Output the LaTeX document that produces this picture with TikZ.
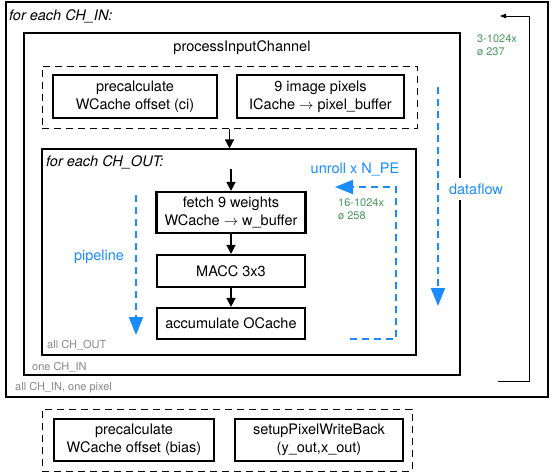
\documentclass[tikz,border=0pt]{standalone}
\usepackage{fontspec}
\setmainfont{TeX Gyre Heros}
\usepackage{xcolor}
\usepackage{tikz}
\usetikzlibrary{arrows.meta}

\definecolor{azul}{RGB}{25,140,255}
\definecolor{verde}{RGB}{72,150,92}
\definecolor{gris}{RGB}{135,135,135}

\tikzset{
  caja/.style={draw, line width=2.2pt, inner sep=0pt, align=center,
    font=\fontsize{14.5}{18}\selectfont},
  marco/.style={draw, line width=1.2pt, inner sep=0pt},
  grupo/.style={draw, line width=1pt, dash pattern=on 7pt off 5pt, inner sep=0pt},
  titulo/.style={inner sep=0pt, anchor=west, font=\fontsize{14.5}{17}\selectfont\itshape},
  etiqueta/.style={inner sep=0pt, anchor=west, text=gris, font=\fontsize{11}{13}\selectfont},
  cuenta/.style={inner sep=0pt, anchor=north west, align=left, text=verde,
    font=\fontsize{11}{13}\selectfont},
  nota/.style={inner sep=0pt, text=azul, font=\fontsize{14.5}{17}\selectfont},
  paso/.style={line width=1.5pt, -{Triangle[width=9pt,length=9pt]}},
  flujo/.style={draw=azul, line width=2pt, dash pattern=on 7pt off 5pt,
    -{Triangle[width=14pt,length=18pt]}}
}

\begin{document}
\begin{tikzpicture}[x=1pt,y=-1pt]
  \useasboundingbox (0,0) rectangle (556,475);

  % Bucle exterior
  \node[marco, minimum width=542, minimum height=395] (chin) at (277,199.5) {};
  \node[titulo] (tchin) at (9,16) {for each CH\_IN:};
  \node[etiqueta] (allin) at (15,388) {all CH\_IN, one pixel};
  \coordinate (v1) at (498,381);
  \coordinate (v2) at (529,381);
  \coordinate (v3) at (529,16);
  \coordinate (v4) at (500,16);
  \draw[line width=0.9pt, -{Triangle[width=4.5pt,length=6pt]}] (v1) -- (v2) -- (v3) -- (v4);
  \node[cuenta] (n237) at (477,34) {3-1024x\\ø 237};

  % processInputChannel
  \node[draw, line width=2.6pt, inner sep=0pt, minimum width=436, minimum height=342] (pic) at (242,204) {};
  \node[inner sep=0pt, font=\fontsize{14.5}{17}\selectfont] (tpic) at (242,48) {processInputChannel};
  \node[etiqueta] (onein) at (32,367) {one CH\_IN};

  % Grupo de arriba
  \node[grupo, minimum width=375, minimum height=62] (pre) at (229.5,97) {};
  \node[caja, minimum width=164, minimum height=43] (ci) at (135,96.5) {precalculate\\WCache offset (ci)};
  \node[caja, minimum width=167, minimum height=43] (pix) at (320.5,96.5) {9 image pixels\\ICache $\rightarrow$ pixel\_buffer};

  % Bucle CH_OUT
  \node[marco, minimum width=374, minimum height=206] (chout) at (229,252) {};
  \node[titulo] (tchout) at (46,162) {for each CH\_OUT:};
  \node[etiqueta] (allout) at (47,345) {all CH\_OUT};
  \draw[paso] (pre.south) -- (pre.south |- chout.north);

  \node[caja, minimum width=149, minimum height=41] (fetch) at (231,212.5) {fetch 9 weights\\WCache $\rightarrow$ w\_buffer};
  \node[caja, minimum width=148, minimum height=32] (macc) at (231,271) {MACC 3x3};
  \node[caja, minimum width=148, minimum height=31] (acc) at (231,323.5) {accumulate OCache};
  \coordinate (entrada) at (231,169);
  \draw[paso] (entrada) -- (fetch.north);
  \draw[paso] (fetch.south) -- (macc.north);
  \draw[paso] (macc.south) -- (acc.north);

  % Flechas azules
  \coordinate (p1) at (136,195);
  \coordinate (p2) at (136,335);
  \draw[flujo] (p1) -- (p2);
  \node[nota] (pipe) at (99,257) {pipeline};

  \coordinate (d1) at (438,87);
  \coordinate (d2) at (438,306);
  \draw[flujo] (d1) -- (d2);
  \node[nota, fill=white, inner ysep=6pt, inner xsep=2pt] (df) at (476,189) {dataflow};

  \coordinate (u1) at (350,339);
  \coordinate (u2) at (396,339);
  \coordinate (u3) at (396,187);
  \coordinate (u4) at (335,187);
  \draw[flujo] (u1) -- (u2) -- (u3) -- (u4);
  \node[nota] (unroll) at (355,169) {unroll x N\_PE};
  \node[cuenta] (n258) at (338,198) {16-1024x\\ø 258};

  % Grupo de abajo
  \node[grupo, minimum width=370, minimum height=62] (post) at (227,440) {};
  \node[caja, minimum width=160, minimum height=42] (bias) at (134,440) {precalculate\\WCache offset (bias)};
  \node[caja, minimum width=168, minimum height=42] (wb) at (319,440) {setupPixelWriteBack\\(y\_out,x\_out)};
\end{tikzpicture}
\end{document}
